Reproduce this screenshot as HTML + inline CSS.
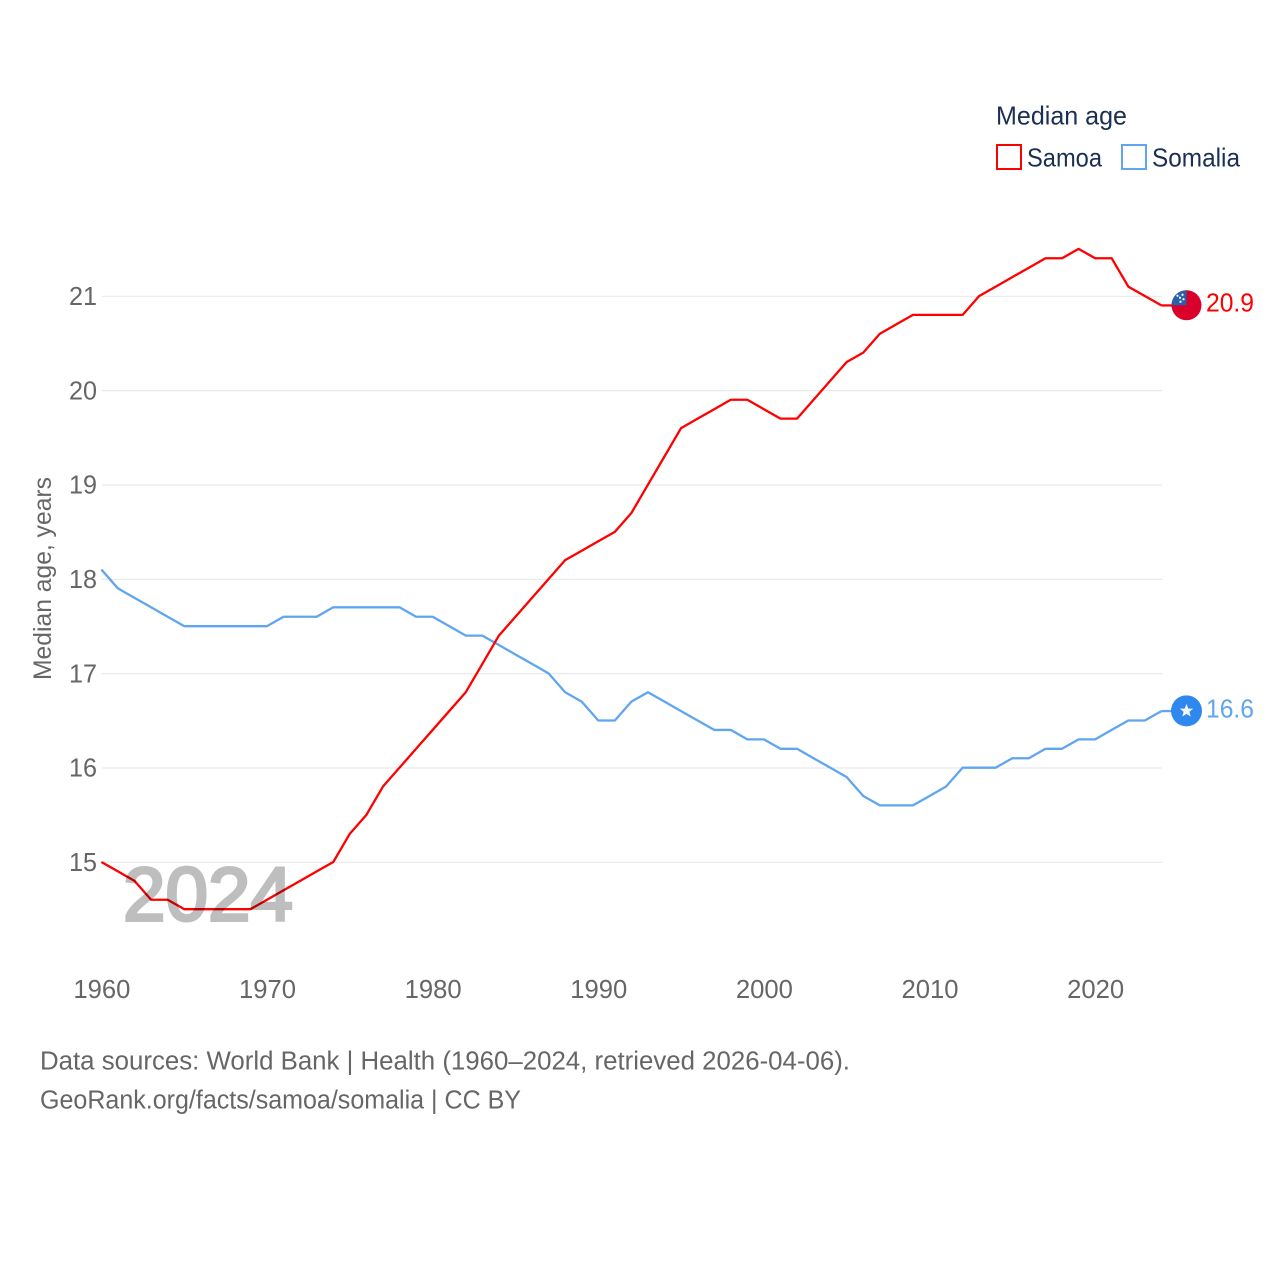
<!DOCTYPE html>
<html lang="en">
<head>
<meta charset="utf-8">
<title>Median age: Samoa and Somalia</title>
<style>
  html, body { margin: 0; padding: 0; background: #fff; }
  svg { display: block; font-family: "Liberation Sans", sans-serif; }
</style>
</head>
<body>
<svg id="chart" xmlns="http://www.w3.org/2000/svg" width="1280" height="1280" viewBox="0 0 1280 1280">
  <rect x="0" y="0" width="1280" height="1280" fill="#ffffff"/>
  <g id="grid"></g>
  <g id="y-ticks"></g>
  <g id="x-ticks"></g>
  <text transform="translate(51,680) rotate(-90)" font-size="25" fill="#666666" textLength="203" lengthAdjust="spacingAndGlyphs">Median age, years</text>

  <g id="series"></g>

  <text x="123" y="920.5" font-size="76" font-weight="normal" fill="#000000" stroke="#000000" stroke-width="3" opacity="0.25" textLength="170" lengthAdjust="spacingAndGlyphs">2024</text>

  <g>
    <text x="996" y="124.5" font-size="26" fill="#1a2f52" textLength="131" lengthAdjust="spacingAndGlyphs">Median age</text>
    <rect x="997" y="145" width="24" height="24" fill="none" stroke="#ff0000" stroke-width="2"/>
    <text x="1027" y="166.5" font-size="26" fill="#1a2f52" textLength="75" lengthAdjust="spacingAndGlyphs">Samoa</text>
    <rect x="1122" y="145" width="24" height="24" fill="none" stroke="#5fa5f0" stroke-width="2"/>
    <text x="1152" y="166.5" font-size="26" fill="#1a2f52" textLength="88" lengthAdjust="spacingAndGlyphs">Somalia</text>
  </g>

  <g id="end-markers"></g>

  <g>
    <text x="40" y="1069.5" font-size="25.5" fill="#666666" textLength="810" lengthAdjust="spacingAndGlyphs">Data sources: World Bank | Health (1960–2024, retrieved 2026-04-06).</text>
    <text x="40" y="1108.5" font-size="25.5" fill="#666666" textLength="481" lengthAdjust="spacingAndGlyphs">GeoRank.org/facts/samoa/somalia | CC BY</text>
  </g>
</svg>
<script>
const years = [1960,1961,1962,1963,1964,1965,1966,1967,1968,1969,1970,1971,1972,1973,1974,1975,1976,1977,1978,1979,1980,1981,1982,1983,1984,1985,1986,1987,1988,1989,1990,1991,1992,1993,1994,1995,1996,1997,1998,1999,2000,2001,2002,2003,2004,2005,2006,2007,2008,2009,2010,2011,2012,2013,2014,2015,2016,2017,2018,2019,2020,2021,2022,2023,2024];
const samoaValues = [15.0,14.9,14.8,14.6,14.6,14.5,14.5,14.5,14.5,14.5,14.6,14.7,14.8,14.9,15.0,15.3,15.5,15.8,16.0,16.2,16.4,16.6,16.8,17.1,17.4,17.6,17.8,18.0,18.2,18.3,18.4,18.5,18.7,19.0,19.3,19.6,19.7,19.8,19.9,19.9,19.8,19.7,19.7,19.9,20.1,20.3,20.4,20.6,20.7,20.8,20.8,20.8,20.8,21.0,21.1,21.2,21.3,21.4,21.4,21.5,21.4,21.4,21.1,21.0,20.9];
const somaliaValues = [18.1,17.9,17.8,17.7,17.6,17.5,17.5,17.5,17.5,17.5,17.5,17.6,17.6,17.6,17.7,17.7,17.7,17.7,17.7,17.6,17.6,17.5,17.4,17.4,17.3,17.2,17.1,17.0,16.8,16.7,16.5,16.5,16.7,16.8,16.7,16.6,16.5,16.4,16.4,16.3,16.3,16.2,16.2,16.1,16.0,15.9,15.7,15.6,15.6,15.6,15.7,15.8,16.0,16.0,16.0,16.1,16.1,16.2,16.2,16.3,16.3,16.4,16.5,16.5,16.6];
const yTickValues = [15,16,17,18,19,20,21];
const xTickValues = [1960,1970,1980,1990,2000,2010,2020];

const NS = 'http://www.w3.org/2000/svg';
const xOf = function (year) { return 101.4 + (year - 1960) * (1161.4 - 101.4) / 64; };
const yOf = function (v) { return 862 - (v - 15) * 566 / 6; };

function make(tag, attrs, parent, text) {
  const el = document.createElementNS(NS, tag);
  Object.keys(attrs).forEach(function (k) { el.setAttribute(k, attrs[k]); });
  if (text !== undefined) el.textContent = text;
  parent.appendChild(el);
  return el;
}

const gridGroup = document.getElementById('grid');
const yTickGroup = document.getElementById('y-ticks');
yTickValues.forEach(function (v) {
  const line = make('line', { x1: 102, x2: 1162, y1: yOf(v) + 0.3, y2: yOf(v) + 0.3, stroke: '#e9e9e9', 'stroke-width': 1.2 }, gridGroup);
  
  
  const label = make('text', { x: 69, y: yOf(v) + 9, 'font-size': 26, fill: '#666666', textLength: 28, lengthAdjust: 'spacingAndGlyphs' }, yTickGroup, String(v));
  
  
});

const xTickGroup = document.getElementById('x-ticks');
xTickValues.forEach(function (yr) {
  const label = make('text', { x: xOf(yr) - 28, y: 998, 'font-size': 26, fill: '#666666', textLength: 57, lengthAdjust: 'spacingAndGlyphs' }, xTickGroup, String(yr));
  
  
});

function linePath(values) {
  return values.map(function (v, i) {
    return (i ? 'L' : 'M') + xOf(years[i]).toFixed(2) + ' ' + yOf(v).toFixed(2);
  }).join(' ');
}

const seriesGroup = document.getElementById('series');
const somaliaLine = make('path', { d: linePath(somaliaValues), fill: 'none', stroke: '#5fa5f0', 'stroke-width': 2.3, 'stroke-linejoin': 'round' }, seriesGroup);


const samoaLine = make('path', { d: linePath(samoaValues), fill: 'none', stroke: '#ff0000', 'stroke-width': 2.3, 'stroke-linejoin': 'round' }, seriesGroup);



const markers = document.getElementById('end-markers');
const lastIndex = years.length - 1;
const samoaLast = samoaValues[lastIndex];
const somaliaLast = somaliaValues[lastIndex];
const markerX = 1186.5;
const samoaY = yOf(samoaLast) - 0.2;
const somaliaY = yOf(somaliaLast) - 0.2;

const samoaConnector = make('line', { x1: xOf(years[lastIndex]), x2: markerX - 14, y1: yOf(samoaLast), y2: yOf(samoaLast), stroke: '#ff0000', 'stroke-width': 2.3 }, markers);


const somaliaConnector = make('line', { x1: xOf(years[lastIndex]), x2: markerX - 14, y1: yOf(somaliaLast), y2: yOf(somaliaLast), stroke: '#5fa5f0', 'stroke-width': 2.3 }, markers);



const samoaFlag = make('g', { transform: 'translate(' + markerX + ',' + samoaY + ')' }, markers);


make('circle', { cx: 0, cy: 0, r: 15, fill: '#d9002c' }, samoaFlag);
make('path', { d: 'M0 0 H-15 A15 15 0 0 1 0 -15 Z', fill: '#2a5fac' }, samoaFlag);
[[-6.5,-7.5],[-4,-10.5],[-9,-9.5],[-3,-6],[-6,-3.5]].forEach(function (p) {
  make('circle', { cx: p[0], cy: p[1], r: 1.1, fill: '#ffffff' }, samoaFlag);
});

const somaliaFlag = make('g', { transform: 'translate(' + markerX + ',' + somaliaY + ')' }, markers);


make('circle', { cx: 0, cy: 0, r: 15.5, fill: '#2f88ee' }, somaliaFlag);
make('polygon', { points: '0,-7 1.8,-2.3 6.8,-2.2 2.9,0.9 4.2,5.7 0,3 -4.2,5.7 -2.9,0.9 -6.8,-2.2 -1.8,-2.3', fill: '#f2f6fc' }, somaliaFlag);

const samoaValueLabel = make('text', { x: 1206, y: samoaY + 6.5, 'font-size': 26, fill: '#ff0000', textLength: 48, lengthAdjust: 'spacingAndGlyphs' }, markers, samoaLast.toFixed(1));


const somaliaValueLabel = make('text', { x: 1206, y: somaliaY + 6.5, 'font-size': 26, fill: '#5fa5f0', textLength: 48, lengthAdjust: 'spacingAndGlyphs' }, markers, somaliaLast.toFixed(1));


</script>
</body>
</html>
